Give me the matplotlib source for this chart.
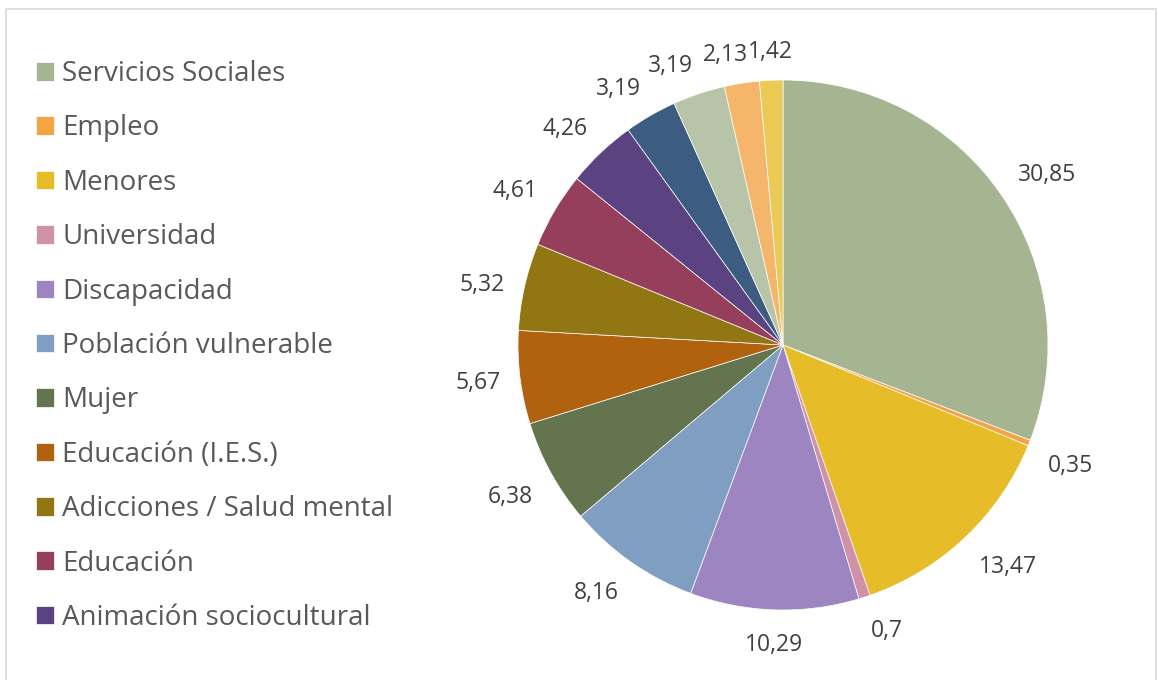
import numpy as np
import matplotlib.pyplot as plt
from matplotlib.patches import Rectangle

plt.rcParams['font.family'] = ['Open Sans', 'DejaVu Sans']

# Slice values (clockwise from 12 o'clock)
values = [30.85, 0.35, 13.47, 0.7, 10.29, 8.16, 6.38, 5.67, 5.32, 4.61, 4.26,
          3.19, 3.19, 2.13, 1.42]
value_labels = ['30,85', '0,35', '13,47', '0,7', '10,29', '8,16', '6,38', '5,67',
                '5,32', '4,61', '4,26', '3,19', '3,19', '2,13', '1,42']
# Only the first eleven categories appear in the legend
legend_labels = ['Servicios Sociales', 'Empleo', 'Menores', 'Universidad',
                 'Discapacidad', 'Población vulnerable', 'Mujer',
                 'Educación (I.E.S.)', 'Adicciones / Salud mental', 'Educación',
                 'Animación sociocultural']
colors = ['#A5B592', '#F3A447', '#E7BC29', '#D092A7', '#9C85C0', '#809EC2',
          '#64744F', '#B1620F', '#927613', '#963F5D', '#5B4382', '#3D5C81',
          '#B8C4A8', '#F5B66C', '#EBC955']

W, H = 1158, 680
fig = plt.figure(figsize=(W / 100, H / 100), dpi=100)

# light grey chart frame
fig.patches.append(Rectangle((6 / W, -0.01), 1150 / W, 1 - 9 / H + 0.01,
                             transform=fig.transFigure, fill=False,
                             edgecolor='#D9D9D9', linewidth=1.2))

cx, cy, r = 783, 345, 265
ax = fig.add_axes([(cx - r) / W, (H - cy - r) / H, 2 * r / W, 2 * r / H])
wedges, _ = ax.pie(values, colors=colors, startangle=90, counterclock=False,
                   radius=1, wedgeprops=dict(edgecolor='white', linewidth=0.5))
ax.set_xlim(-1, 1)
ax.set_ylim(-1, 1)
ax.set_aspect('equal')
ax.axis('off')

# data labels just outside each wedge
texts = []
for w, txt in zip(wedges, value_labels):
    ang = np.deg2rad((w.theta1 + w.theta2) / 2)
    c, s = np.cos(ang), np.sin(ang)
    ha = 'left' if c > 0.3 else ('right' if c < -0.3 else 'center')
    va = 'bottom' if s > 0.3 else ('top' if s < -0.3 else 'center')
    t = ax.text(1.075 * c, 1.075 * s - 0.012, txt, ha=ha, va=va, fontsize=16.5,
                color='#404040', clip_on=False)
    texts.append(t)

# push crowded labels near the top apart (move the earlier one leftwards)
renderer = fig.canvas.get_renderer()
inv = ax.transData.inverted()
for i in range(len(texts) - 1, 0, -1):
    b_next = texts[i].get_window_extent(renderer)
    b_prev = texts[i - 1].get_window_extent(renderer)
    if b_prev.overlaps(b_next) and b_prev.x1 > b_next.x0:
        shift = b_prev.x1 - b_next.x0
        x, y = texts[i - 1].get_position()
        px, py = ax.transData.transform((x, y))
        texts[i - 1].set_position(inv.transform((px - shift, py)))

fig.legend(wedges[:len(legend_labels)], legend_labels, loc='upper left',
           bbox_to_anchor=(36 / W, 1 - 60 / H), frameon=False, fontsize=20,
           labelcolor='#595959', handlelength=0.65, handleheight=0.65,
           handletextpad=0.3, labelspacing=0.95, borderpad=0, borderaxespad=0)

fig.savefig('out.png', dpi=100, facecolor='white')
